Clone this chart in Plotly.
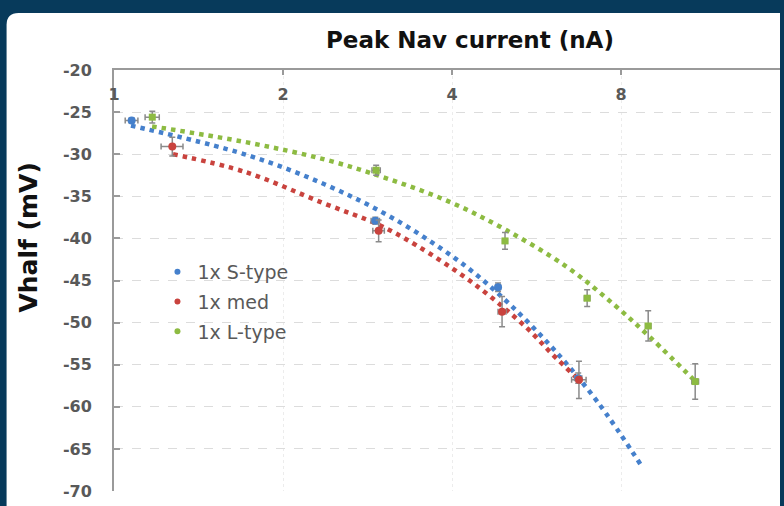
import plotly.graph_objects as go

# ---- data ----
series_names = ["1x S-type", "1x med", "1x L-type"]
series_colors = ["#4580cc", "#c9433e", "#8dbb42"]

# measured points (Peak Nav current in nA, Vhalf in mV)
s_x = [1.075, 2.92, 4.83, 6.71]
s_y = [-26.0, -37.9, -45.8, -56.6]
s_ex = [0.028, 0.05, 0.05, 0.1]
s_ey = [0.3, 0.4, 0.5, 0.6]

m_x = [1.27, 2.96, 4.91, 6.73]
m_y = [-29.1, -39.1, -48.7, -56.8]
m_ex = [0.057, 0.07, 0.08, 0.2]
m_ey = [1.1, 1.3, 1.8, 2.2]

l_x = [1.17, 2.93, 4.97, 6.96, 8.94, 10.84]
l_y = [-25.6, -31.9, -40.3, -47.1, -50.4, -57.0]
l_ex = [0.034, 0.05, 0.05, 0.08, 0.1, 0.15]
l_ey = [0.7, 0.6, 1.0, 1.0, 1.8, 2.1]

# dotted trend curves
s_tx = [1.072, 1.726, 2.395, 3.138, 4.056, 4.823, 5.979, 7.260, 8.755]
s_ty = [-26.6, -30.1, -33.7, -37.6, -42.4, -46.5, -52.7, -59.4, -67.3]
m_tx = [1.274, 1.711, 2.357, 2.965, 3.451, 4.377, 5.427, 6.021, 6.727]
m_ty = [-30.0, -32.1, -35.8, -38.4, -40.8, -45.4, -50.6, -53.7, -56.8]
l_tx = [1.169, 1.726, 2.395, 3.101, 3.972, 4.959, 6.409, 7.781, 9.063, 10.853]
l_ty = [-26.7, -28.6, -30.7, -33.0, -35.7, -38.9, -43.4, -47.9, -51.9, -57.0]

x_ticks = [1, 2, 4, 8]
x_tick_text = ["1", "2", "4", "8"]
y_ticks = [-20, -25, -30, -35, -40, -45, -50, -55, -60, -65, -70]
y_tick_text = ["-20", "-25", "-30", "-35", "-40", "-45", "-50", "-55", "-60", "-65", "-70"]

x_title = "Peak Nav current (nA)"
y_title = "Vhalf (mV)"

# ---- figure ----
W, H = 784, 506
L, R, T, B = 113.5, 4, 70, 15
PW, PH = W - L - R, H - T - B
BG = "#073a5b"

def fx(px):
    return (px - L) / PW

def fy(py):
    return (H - B - py) / PH

fig = go.Figure()

trends = [(s_tx, s_ty), (m_tx, m_ty), (l_tx, l_ty)]
points = [(s_x, s_y, s_ex, s_ey, "circle", 8),
          (m_x, m_y, m_ex, m_ey, "circle", 8),
          (l_x, l_y, l_ex, l_ey, "square", 7)]

for (tx, ty), col in zip(trends, series_colors):
    fig.add_trace(go.Scatter(
        x=tx, y=ty, mode="lines", showlegend=False, hoverinfo="skip",
        line=dict(color=col, width=4.5, dash="4.5px,5px", shape="spline", smoothing=1.0),
    ))

err_col = "#8a8a8a"
for (px_, py_, ex, ey, sym, sz), col in zip(points, series_colors):
    fig.add_trace(go.Scatter(
        x=px_, y=py_, mode="markers", showlegend=False,
        marker=dict(color=col, size=sz, symbol=sym),
        error_x=dict(type="data", array=ex, color=err_col, thickness=1.5, width=3),
        error_y=dict(type="data", array=ey, color=err_col, thickness=1.5, width=3),
    ))

for name, col in zip(series_names, series_colors):
    fig.add_trace(go.Scatter(
        x=[None], y=[None], mode="markers", name=name, legendgroup=name,
        marker=dict(color=col, size=6, symbol="circle"),
    ))

# white rounded panel on dark blue background
x0, x1 = fx(6), fx(780)
y0, y1 = fy(13), fy(H + 20)
rx, ry = 12 / PW, 12 / PH
panel = (f"M {x0},{y1} L {x0},{y0 - ry} Q {x0},{y0} {x0 + rx},{y0} "
         f"L {x1},{y0} L {x1},{y1} Z")
fig.add_shape(type="path", path=panel, xref="paper", yref="paper",
              fillcolor="white", line=dict(width=0), layer="below")

fig.add_annotation(text=x_title, x=fx(470), y=fy(40), xref="paper", yref="paper",
                   showarrow=False, xanchor="center", yanchor="middle",
                   font=dict(family="DejaVu Sans", size=23, color="#111111", weight="bold"))
fig.add_annotation(text=y_title, x=fx(27), y=fy(238), xref="paper", yref="paper",
                   showarrow=False, textangle=-90, xanchor="center", yanchor="middle",
                   font=dict(family="DejaVu Sans", size=25, color="#111111", weight="bold"))

axis_col = "#9a9a9a"
fig.update_layout(
    width=W, height=H,
    margin=dict(l=L, r=R, t=T, b=B, pad=0),
    paper_bgcolor=BG,
    plot_bgcolor="white",
    font=dict(family="DejaVu Sans"),
    xaxis=dict(
        type="log", side="top", range=[0, 3.94 * 0.30103],
        tickvals=x_ticks, ticktext=x_tick_text,
        ticks="inside", ticklen=5, tickwidth=1.5, tickcolor=axis_col,
        ticklabelposition="inside", ticklabeloverflow="allow", ticklabelstandoff=14,
        tickfont=dict(family="DejaVu Sans", size=16, color="#595959", weight="bold"),
        showline=True, linecolor=axis_col, linewidth=2,
        showgrid=True, gridcolor="#ececec", griddash="dot", gridwidth=1,
        zeroline=False, automargin=False,
    ),
    yaxis=dict(
        range=[-70, -20], tickvals=y_ticks, ticktext=y_tick_text,
        ticks="inside", ticklen=6, tickwidth=1.5, tickcolor=axis_col,
        tickfont=dict(family="DejaVu Sans", size=16, color="#595959", weight="bold"),
        ticklabelstandoff=17,
        showline=True, linecolor=axis_col, linewidth=2,
        showgrid=True, gridcolor="#dcdcdc", griddash="dash", gridwidth=1,
        zeroline=False, automargin=False,
    ),
    legend=dict(
        x=fx(157), y=fy(253), xanchor="left", yanchor="top",
        bgcolor="rgba(0,0,0,0)", borderwidth=0,
        font=dict(family="DejaVu Sans", size=19, color="#595959"),
        tracegroupgap=2, itemsizing="trace",
    ),
)

fig.write_html(
    "out.html",
    config={"displayModeBar": False},
    post_script=("document.documentElement.style.margin='0';"
                 "document.body.style.margin='0';document.body.style.padding='0';"
                 f"document.documentElement.style.background='{BG}';"
                 f"document.body.style.background='{BG}';"),
)
